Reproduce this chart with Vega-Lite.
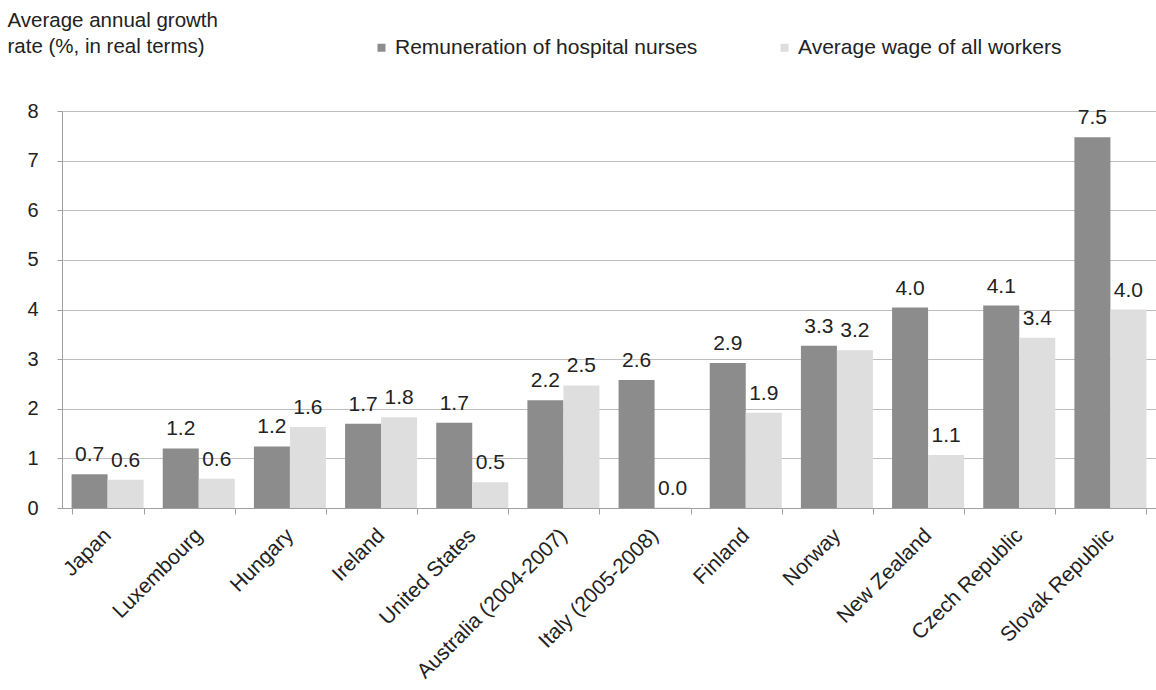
{
  "$schema": "https://vega.github.io/schema/vega-lite/v6.json",
  "autosize": {"type": "none"},
  "padding": {"left": 62, "top": 111, "right": 0, "bottom": 182},
  "width": 1094,
  "height": 397,
  "background": "white",
  "config": {
    "font": "Liberation Sans",
    "view": {"stroke": null},
    "axis": {"labelFont": "Liberation Sans", "titleFont": "Liberation Sans", "labelColor": "#222", "titleColor": "#222"}
  },
  "data": {
    "values": [
      {"country": "Japan", "series": "Remuneration of hospital nurses", "value": 0.68},
      {"country": "Japan", "series": "Average wage of all workers", "value": 0.57},
      {"country": "Luxembourg", "series": "Remuneration of hospital nurses", "value": 1.2},
      {"country": "Luxembourg", "series": "Average wage of all workers", "value": 0.59},
      {"country": "Hungary", "series": "Remuneration of hospital nurses", "value": 1.24},
      {"country": "Hungary", "series": "Average wage of all workers", "value": 1.63},
      {"country": "Ireland", "series": "Remuneration of hospital nurses", "value": 1.7},
      {"country": "Ireland", "series": "Average wage of all workers", "value": 1.83},
      {"country": "United States", "series": "Remuneration of hospital nurses", "value": 1.72},
      {"country": "United States", "series": "Average wage of all workers", "value": 0.52},
      {"country": "Australia (2004-2007)", "series": "Remuneration of hospital nurses", "value": 2.17},
      {"country": "Australia (2004-2007)", "series": "Average wage of all workers", "value": 2.47},
      {"country": "Italy (2005-2008)", "series": "Remuneration of hospital nurses", "value": 2.58},
      {"country": "Italy (2005-2008)", "series": "Average wage of all workers", "value": 0.01},
      {"country": "Finland", "series": "Remuneration of hospital nurses", "value": 2.92},
      {"country": "Finland", "series": "Average wage of all workers", "value": 1.92},
      {"country": "Norway", "series": "Remuneration of hospital nurses", "value": 3.27},
      {"country": "Norway", "series": "Average wage of all workers", "value": 3.18},
      {"country": "New Zealand", "series": "Remuneration of hospital nurses", "value": 4.04},
      {"country": "New Zealand", "series": "Average wage of all workers", "value": 1.07},
      {"country": "Czech Republic", "series": "Remuneration of hospital nurses", "value": 4.08},
      {"country": "Czech Republic", "series": "Average wage of all workers", "value": 3.43},
      {"country": "Slovak Republic", "series": "Remuneration of hospital nurses", "value": 7.47},
      {"country": "Slovak Republic", "series": "Average wage of all workers", "value": 4.0}
    ]
  },
  "encoding": {
    "x": {
      "field": "country", "type": "nominal", "sort": null,
      "scale": {"paddingInner": 0.21, "paddingOuter": 0.105},
      "axis": {
        "title": null, "labelAngle": -45, "labelAlign": "right", "labelBaseline": "middle",
        "labelFontSize": 21, "labelPadding": 18, "tickBand": "extent", "tickSize": 6,
        "domainColor": "#a0a0a0", "tickColor": "#a0a0a0", "labelLimit": 0
      }
    },
    "xOffset": {"field": "series", "type": "nominal", "sort": ["Remuneration of hospital nurses", "Average wage of all workers"], "scale": {"paddingInner": 0}}
  },
  "layer": [
    {
      "mark": {"type": "bar"},
      "encoding": {
        "y": {
          "field": "value", "type": "quantitative",
          "scale": {"domain": [0, 8], "nice": false},
          "axis": {
            "values": [0, 1, 2, 3, 4, 5, 6, 7, 8],
            "title": ["Average annual growth", "rate (%, in real terms)"],
            "titleAngle": 0, "titleAlign": "left", "titleBaseline": "top",
            "titleX": -55, "titleY": -101, "titleFontSize": 20.5, "titleFontWeight": "normal",
            "titleLineHeight": 26,
            "labelFontSize": 20, "labelPadding": 19, "tickSize": 5,
            "gridColor": "#bdbdbd", "domainColor": "#a0a0a0", "tickColor": "#a0a0a0"
          }
        },
        "color": {
          "field": "series", "type": "nominal",
          "sort": ["Remuneration of hospital nurses", "Average wage of all workers"],
          "scale": {"domain": ["Remuneration of hospital nurses", "Average wage of all workers"], "range": ["#8c8c8c", "#dedede"]},
          "legend": {
            "title": null, "orient": "none", "direction": "horizontal",
            "legendX": 309, "legendY": -74, "symbolType": "square", "symbolSize": 64,
            "symbolStrokeWidth": 0, "labelFontSize": 21, "labelColor": "#222",
            "columnPadding": 76, "labelOffset": 3, "labelLimit": 0
          }
        }
      }
    },
    {
      "mark": {"type": "text", "dy": -13, "fontSize": 21, "color": "#222", "baseline": "alphabetic"},
      "encoding": {
        "y": {"field": "value", "type": "quantitative"},
        "text": {"field": "value", "type": "quantitative", "format": ".1f"}
      }
    }
  ]
}
